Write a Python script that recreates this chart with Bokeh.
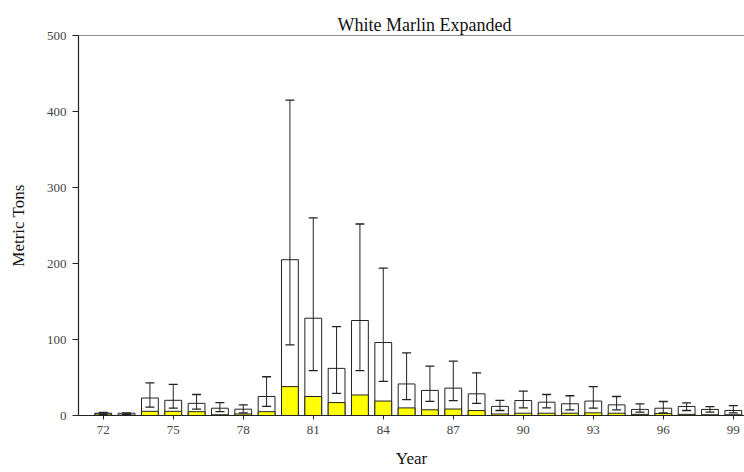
from bokeh.plotting import figure
from bokeh.models import Range1d, FixedTicker, Span, ColumnDataSource
from bokeh.embed import file_html
from bokeh.resources import INLINE

years = list(range(72, 100))
yellow = [2, 0.5, 5.5, 5.5, 5, 1, 2, 5, 38, 25, 17, 27, 19, 10, 7.5, 8.5, 6.5, 2,
          3, 3, 3, 3.5, 3, 1.5, 2.5, 1.5, 1, 1]
box_top = [3, 3, 23, 20, 16, 9.6, 8.3, 25, 205, 128, 62, 125, 96, 41.5, 33, 36, 28.5, 12,
           19.7, 17.5, 15.4, 19, 14, 8, 9.6, 11.8, 8, 6.6]
lower = [1, 1.5, 11, 9.6, 8.3, 5, 3.5, 12, 93, 59, 29, 59, 45, 21, 18.5, 19.7, 16, 6.6,
         10, 10, 7.5, 9.6, 7.5, 4.4, 3.5, 6.6, 4.4, 3.5]
upper = [4, 3.5, 43, 41, 27.6, 17, 14, 51, 415, 260, 117, 252, 194, 82.5, 65, 71.5, 56, 20,
         32, 27.6, 26, 38, 25, 15.4, 18.4, 16.7, 11.8, 13]
x_ticks = [72, 75, 78, 81, 84, 87, 90, 93, 96, 99]
y_ticks = [0, 100, 200, 300, 400, 500]

src = ColumnDataSource(dict(x=years, yellow=yellow, box=box_top, lo=lower, hi=upper))

SERIF = "Liberation Serif"
LINE = "#222222"

p = figure(width=744, height=472, output_backend="svg", toolbar_location=None,
           x_range=Range1d(70.94, 99.48), y_range=Range1d(0, 500),
           min_border_left=78, min_border_right=0, min_border_top=35, min_border_bottom=57,
           title="White Marlin Expanded")
p.title.text_font = SERIF
p.title.text_font_size = "18px"
p.title.text_font_style = "normal"
p.title.text_color = "#111111"
p.title.align = "left"
p.title.offset = 259
p.title.standoff = 2

p.grid.visible = False
p.outline_line_color = None
p.background_fill_color = "white"
p.border_fill_color = "white"

p.add_layout(Span(location=500, dimension="width", line_color=LINE, line_width=1.2))

p.vbar(x="x", width=0.72, bottom=0, top="box", source=src,
       fill_color="white", line_color=LINE, line_width=1)
p.vbar(x="x", width=0.72, bottom=0, top="yellow", source=src,
       fill_color="#FFFF00", line_color=LINE, line_width=1)
p.segment(x0="x", y0="lo", x1="x", y1="hi", source=src, line_color=LINE, line_width=1)
p.dash(x="x", y="hi", size=9, source=src, line_color=LINE, line_width=1.3)
p.dash(x="x", y="lo", size=9, source=src, line_color=LINE, line_width=1.3)

for ax in (p.xaxis[0], p.yaxis[0]):
    ax.axis_line_color = LINE
    ax.axis_line_width = 1.2
    ax.major_tick_line_color = LINE
    ax.minor_tick_line_color = None
    ax.major_tick_in = 0
    ax.major_label_text_font = SERIF
    ax.major_label_text_font_size = "13px"
    ax.major_label_text_color = "#444444"
    ax.axis_label_text_font = SERIF
    ax.axis_label_text_font_size = "17px"
    ax.axis_label_text_font_style = "normal"
    ax.axis_label_text_color = "#111111"

p.xaxis.ticker = FixedTicker(ticks=x_ticks)
p.xaxis.major_label_overrides = {t: str(t) for t in x_ticks}
p.xaxis.major_tick_out = 4
p.xaxis.major_label_standoff = 6
p.xaxis.axis_label = "Year"
p.xaxis.axis_label_standoff = 12

p.yaxis.ticker = FixedTicker(ticks=y_ticks)
p.yaxis.major_tick_out = 6
p.yaxis.major_label_standoff = 6
p.yaxis.axis_label = "Metric Tons"
p.yaxis.axis_label_standoff = 16

open("out.html", "w").write(file_html(p, INLINE))
